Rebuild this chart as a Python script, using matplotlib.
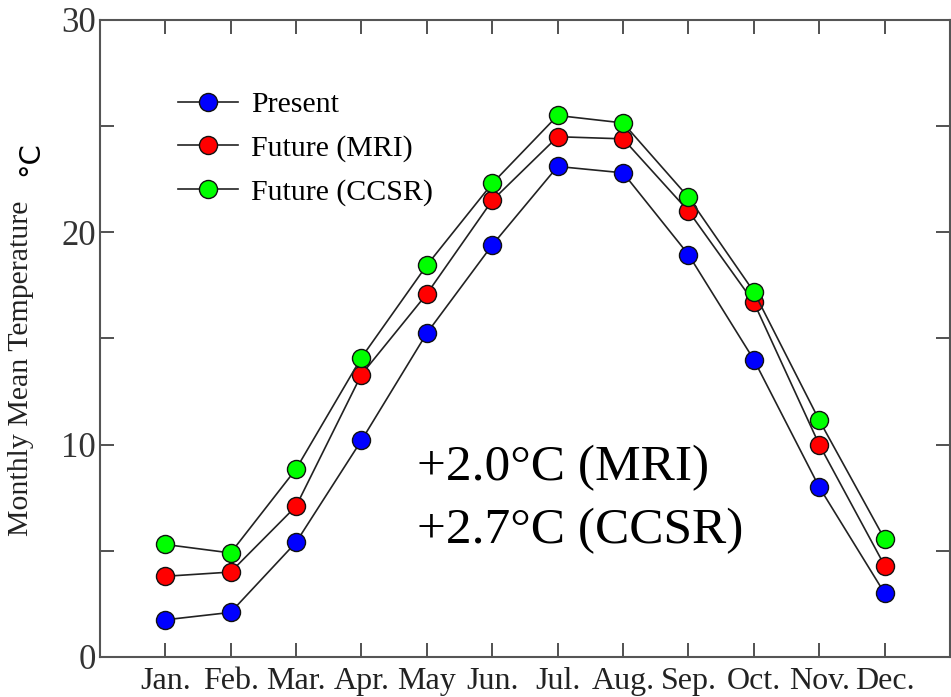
import matplotlib
matplotlib.use("Agg")
import matplotlib.pyplot as plt
import numpy as np

months = ["Jan.", "Feb.", "Mar.", "Apr.", "May", "Jun.", "Jul.", "Aug.", "Sep.", "Oct.", "Nov.", "Dec."]
present = [1.75, 2.1, 5.4, 10.2, 15.25, 19.4, 23.1, 22.8, 18.95, 14.0, 8.0, 3.0]
future_mri = [3.8, 4.0, 7.1, 13.3, 17.1, 21.5, 24.5, 24.4, 21.0, 16.7, 10.0, 4.3]
future_ccsr = [5.3, 4.9, 8.85, 14.1, 18.45, 22.3, 25.5, 25.15, 21.65, 17.2, 11.15, 5.55]
series_names = ["Present", "Future (MRI)", "Future (CCSR)"]
series_colors = ["#0000ff", "#ff0000", "#00ff00"]
yticks = [0, 10, 20, 30]
annotation = ["+2.0°C (MRI)", "+2.7°C (CCSR)"]

plt.rcParams['font.family'] = ['Liberation Serif', 'DejaVu Serif']

fig = plt.figure(figsize=(9.51, 6.97), dpi=100)
ax = fig.add_axes([0.105, 0.0574, 0.894, 0.914])

x = np.arange(1, len(months) + 1)
for vals, name, col in zip([present, future_mri, future_ccsr], series_names, series_colors):
    ax.plot(x, vals, '-', color='#222222', lw=1.2, marker='o', markersize=13,
            markerfacecolor=col, markeredgecolor='#111111', markeredgewidth=1.0, label=name)

ax.set_xlim(0, 13)
ax.set_ylim(0, 30)
ax.set_xticks(x)
ax.set_xticklabels(months, fontsize=23, color='#222222')
ax.set_yticks(yticks)
ax.set_yticklabels([str(v) for v in yticks], fontsize=25, color='#333333')
ax.set_yticks([5, 15, 25], minor=True)
ax.tick_params(which='both', direction='in', length=10, width=1.2, top=True, right=True, color='#333333')
ax.tick_params(axis='x', pad=7)
ax.tick_params(axis='y', pad=3)
for s in ax.spines.values():
    s.set_linewidth(1.5)
    s.set_color('#555555')

ax.set_ylabel("Monthly Mean Temperature", fontsize=21.5, color='#222222')
ax.yaxis.set_label_coords(-0.077, 0.453)
fig.text(0.032, 0.773, "°C", rotation=90, fontsize=21, family='DejaVu Sans', ha='center', va='center')

leg = ax.legend(loc='upper left', bbox_to_anchor=(0.187, 0.869), bbox_transform=fig.transFigure,
                frameon=False, fontsize=21.5, handlelength=2.0, handletextpad=0.45, labelspacing=0.55,
                borderaxespad=0, borderpad=0)

ax.text(4.85, 8.9, annotation[0], fontsize=37, ha='left', va='center')
ax.text(4.85, 5.95, annotation[1], fontsize=37, ha='left', va='center')

fig.savefig("out.png", dpi=100)
